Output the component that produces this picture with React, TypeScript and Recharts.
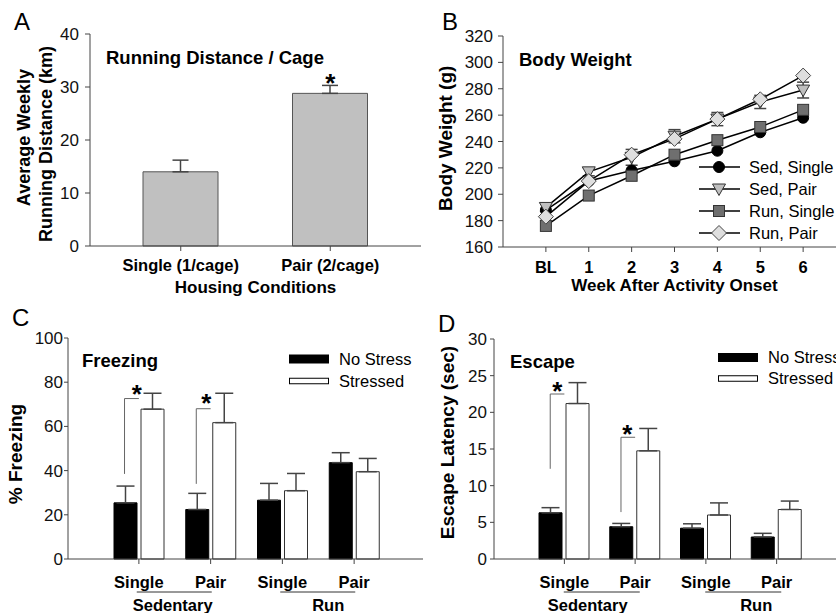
import React from "react";
import { ComposedChart, LineChart, Line, Bar, XAxis, YAxis, ErrorBar, Scatter, Legend } from "recharts";

const FONT = '"Liberation Sans", Arial, Helvetica, sans-serif';
const AXIS = "#444";

// A: running distance
const housing = ["Single (1/cage)", "Pair (2/cage)"];
const distance = [14.0, 28.8];
const distanceErr = [2.2, 1.5];
const distanceStars = [{ x: 1, y: 31.9 }];
const distanceTicks = [0, 10, 20, 30, 40];

// B: body weight
const weeks = [0, 1, 2, 3, 4, 5, 6];
const weekLabels = ["BL", "1", "2", "3", "4", "5", "6"];
const sedSingle = [188, 210, 218, 225, 233, 247, 258];
const sedPair = [190, 217, 228, 244, 257, 270, 279];
const sedPairErr = [3, 3, 6, 5, 5, 5, 6];
const runSingle = [176, 199, 214, 230, 241, 251, 264];
const runPair = [183, 210, 230, 242, 257, 272, 290];
const weightTicks = [160, 180, 200, 220, 240, 260, 280, 300, 320];

// C / D: shared categories
const housingShort = ["Single", "Pair", "Single", "Pair"];
const activityGroups = ["Sedentary", "Run"];
const groupTicks = [0.5, 2.5];

// C: freezing
const freezeNoStress = [25.4, 22.4, 26.6, 43.6];
const freezeNoStressErr = [7.6, 7.3, 7.6, 4.5];
const freezeStressed = [67.8, 61.7, 30.9, 39.5];
const freezeStressedErr = [7.2, 13.3, 7.8, 6.0];
const freezeTicks = [0, 20, 40, 60, 80, 100];
const freezeBrackets = [
  [{ x: -0.2, y: 38.5 }, { x: -0.2, y: 72.6 }, { x: 0, y: 72.6 }],
  [{ x: 0.8, y: 34 }, { x: 0.8, y: 68 }, { x: 1, y: 68 }],
];
const freezeStars = [{ x: -0.03, y: 77.4 }, { x: 0.94, y: 73.3 }];

// D: escape latency
const escNoStress = [6.3, 4.4, 4.2, 3.0];
const escNoStressErr = [0.7, 0.45, 0.6, 0.5];
const escStressed = [21.2, 14.75, 6.0, 6.75];
const escStressedErr = [2.85, 3.05, 1.65, 1.15];
const escTicks = [0, 5, 10, 15, 20, 25, 30];
const escBrackets = [
  [{ x: -0.2, y: 12.3 }, { x: -0.2, y: 22.5 }, { x: 0, y: 22.5 }],
  [{ x: 0.8, y: 6.4 }, { x: 0.8, y: 16.6 }, { x: 1, y: 16.6 }],
];
const escStars = [{ x: -0.1, y: 23.7 }, { x: 0.89, y: 17.9 }];

const weightSeries = [
  { key: "sedSingle", name: "Sed, Single", marker: "circle" },
  { key: "sedPair", name: "Sed, Pair", marker: "triangle" },
  { key: "runSingle", name: "Run, Single", marker: "square" },
  { key: "runPair", name: "Run, Pair", marker: "diamond" },
];

const stressSeries = [
  { name: "No Stress", fill: "#000", h: 8 },
  { name: "Stressed", fill: "#fff", h: 5.5 },
];

const numTick = { fontSize: 17, fill: "#111" };
const catTick = { fontSize: 16.5, fill: "#000", fontWeight: "bold" as const };

function Marker({ kind, cx, cy }: { kind: string; cx: number; cy: number }) {
  if (kind === "circle") return <circle cx={cx} cy={cy} r={5.5} fill="#000" stroke="#000" />;
  if (kind === "triangle")
    return <polygon points={`${cx - 6.5},${cy - 5} ${cx + 6.5},${cy - 5} ${cx},${cy + 6.5}`} fill="#bfbfbf" stroke="#333" />;
  if (kind === "square")
    return <rect x={cx - 5.5} y={cy - 5.5} width={11} height={11} fill="#6f6f6f" stroke="#333" />;
  return <polygon points={`${cx},${cy - 7.5} ${cx + 7.5},${cy} ${cx},${cy + 7.5} ${cx - 7.5},${cy}`} fill="#dedede" stroke="#444" />;
}

const Star = (p: any) => (
  <text x={p.cx} y={p.cy + 15} textAnchor="middle" fontSize={26} fontWeight="bold" fill="#000">
    *
  </text>
);

const NoShape = () => <g />;

function rotLabel(lines: { text: string; x: number; cy: number }[], size: number) {
  return () => (
    <g>
      {lines.map((l) => (
        <text key={l.text} x={l.x} y={l.cy} transform={`rotate(-90 ${l.x} ${l.cy})`} textAnchor="middle"
          fontSize={size} fontWeight="bold" fill="#000">
          {l.text}
        </text>
      ))}
    </g>
  );
}

function flatLabel(text: string, x: number, y: number) {
  return () => (
    <text x={x} y={y} textAnchor="middle" fontSize={17} fontWeight="bold" fill="#000">
      {text}
    </text>
  );
}

function groupTick(textDx: number[], x1: number, x2: number) {
  return (props: any) => {
    const { x, y, payload } = props;
    const i = groupTicks.indexOf(payload.value);
    return (
      <g>
        <line x1={x + x1} x2={x + x2} y1={y + 7} y2={y + 7} stroke="#333" />
        <text x={x + textDx[i]} y={y + 26} textAnchor="middle" fontSize={16.5} fontWeight="bold" fill="#000">
          {activityGroups[i]}
        </text>
      </g>
    );
  };
}

function stressLegend(rowH: number) {
  return () => (
    <div style={{ fontSize: 16.5, color: "#000", whiteSpace: "nowrap" }}>
      {stressSeries.map((s) => (
        <div key={s.name} style={{ display: "flex", alignItems: "center", height: rowH }}>
          <svg width={50} height={rowH} style={{ flexShrink: 0 }}>
            <rect x={0.5} y={(rowH - s.h) / 2} width={39} height={s.h} fill={s.fill} stroke="#000" />
          </svg>
          <span>{s.name}</span>
        </div>
      ))}
    </div>
  );
}

const weightLegend = () => (
  <div style={{ fontSize: 16.5, color: "#000", whiteSpace: "nowrap" }}>
    {weightSeries.map((s) => (
      <div key={s.key} style={{ display: "flex", alignItems: "center", height: 22 }}>
        <svg width={50} height={22} style={{ flexShrink: 0 }}>
          <line x1={0} x2={41} y1={11} y2={11} stroke="#000" strokeWidth={1.5} />
          <Marker kind={s.marker} cx={20} cy={11} />
        </svg>
        <span>{s.name}</span>
      </div>
    ))}
  </div>
);

function PanelA() {
  const rows = housing.map((name, i) => ({ name, value: distance[i], err: [0, distanceErr[i]] }));
  const pad = { left: 16, right: 16 };
  return (
    <ComposedChart width={430} height={300} data={rows} margin={{ top: 34, right: 9, left: 50, bottom: 0 }}>
      <XAxis xAxisId="cat" dataKey="name" height={54} padding={pad} interval={0} tickSize={5} tickMargin={8}
        tick={catTick} axisLine={{ stroke: AXIS }} tickLine={{ stroke: AXIS }}
        label={flatLabel("Housing Conditions", 255.5, 293)} />
      <XAxis xAxisId="num" type="number" dataKey="x" domain={[-0.5, 1.5]} allowDataOverflow hide padding={pad} />
      <XAxis xAxisId="top" orientation="top" type="number" domain={[0, 1]} height={0} tick={false} tickLine={false}
        axisLine={{ stroke: AXIS }} />
      <YAxis yAxisId="l" domain={[0, 40]} ticks={distanceTicks} width={40} tickSize={5} tickMargin={6} tick={numTick}
        axisLine={{ stroke: AXIS }} tickLine={{ stroke: AXIS }}
        label={rotLabel([
          { text: "Average Weekly", x: 30, cy: 137.6 },
          { text: "Running Distance (km)", x: 51.7, cy: 144 },
        ], 18)} />
      <YAxis yAxisId="r" orientation="right" domain={[0, 1]} width={0} tick={false} tickLine={false}
        axisLine={{ stroke: AXIS }} />
      <Bar xAxisId="cat" yAxisId="l" dataKey="value" barSize={75} fill="#c0c0c0" stroke="#555" isAnimationActive={false}>
        <ErrorBar dataKey="err" width={8} stroke="#444" direction="y" />
      </Bar>
      <Scatter xAxisId="num" yAxisId="l" data={distanceStars} dataKey="y" shape={Star} isAnimationActive={false} />
    </ComposedChart>
  );
}

function PanelB() {
  const rows = weeks.map((week, i) => ({
    week,
    sedSingle: sedSingle[i],
    sedPair: sedPair[i],
    sedPairErr: sedPairErr[i],
    runSingle: runSingle[i],
    runPair: runPair[i],
  }));
  return (
    <LineChart width={440} height={300} data={rows} margin={{ top: 36, right: 14, left: 43, bottom: 0 }}>
      <XAxis dataKey="week" type="number" domain={[-1, 7]} ticks={weeks} interval={0} height={53}
        tickFormatter={(v: number) => weekLabels[weeks.indexOf(v)]} tickSize={5} tickMargin={9} tick={catTick}
        axisLine={{ stroke: AXIS }} tickLine={{ stroke: AXIS }}
        label={flatLabel("Week After Activity Onset", 254.5, 291)} />
      <XAxis xAxisId="top" orientation="top" type="number" domain={[0, 1]} height={0} tick={false} tickLine={false}
        axisLine={{ stroke: AXIS }} />
      <YAxis domain={[160, 320]} ticks={weightTicks} width={40} tickSize={5} tickMargin={5} tick={numTick}
        axisLine={{ stroke: AXIS }} tickLine={{ stroke: AXIS }}
        label={rotLabel([{ text: "Body Weight (g)", x: 31.7, cy: 138.3 }], 19)} />
      {weightSeries.map((s) => (
        <Line key={s.key} dataKey={s.key} name={s.name} stroke="#000" strokeWidth={1.5} isAnimationActive={false}
          activeDot={false}
          dot={(p: any) => <Marker key={`${s.key}-${p.index}`} kind={s.marker} cx={p.cx} cy={p.cy} />}>
          {s.key === "sedPair" ? <ErrorBar dataKey="sedPairErr" width={6} stroke="#444" direction="y" /> : null}
        </Line>
      ))}
      <Legend layout="vertical" align="center" verticalAlign="middle" content={weightLegend}
        wrapperStyle={{ left: 279, top: 156, width: 200 }} />
    </LineChart>
  );
}

type StressProps = {
  width: number;
  margin: { top: number; right: number; left: number; bottom: number };
  pad: { left: number; right: number };
  noStress: number[];
  noStressErr: number[];
  stressed: number[];
  stressedErr: number[];
  yMax: number;
  yTicks: number[];
  yTickMargin: number;
  brackets: { x: number; y: number }[][];
  stars: { x: number; y: number }[];
  yLabel: { text: string; x: number; cy: number };
  legendPos: { left: number; top: number };
  legendRow: number;
  groupDx: number[];
  groupLine: number[];
};

function StressPanel(p: StressProps) {
  const rows = housingShort.map((name, i) => ({
    name,
    no: p.noStress[i],
    noErr: [0, p.noStressErr[i]],
    st: p.stressed[i],
    stErr: [0, p.stressedErr[i]],
  }));
  return (
    <ComposedChart width={p.width} height={313} data={rows} margin={p.margin}>
      <XAxis xAxisId="cat" dataKey="name" height={26} padding={p.pad} interval={0} tickSize={5} tickMargin={12}
        tick={catTick} axisLine={{ stroke: AXIS }} tickLine={{ stroke: AXIS }} />
      <XAxis xAxisId="grp" type="number" dataKey="x" domain={[-0.5, 3.5]} allowDataOverflow ticks={groupTicks}
        interval={0} height={28} padding={p.pad} axisLine={false} tickLine={false} tickSize={0} tickMargin={0}
        tick={groupTick(p.groupDx, p.groupLine[0], p.groupLine[1])} />
      <XAxis xAxisId="top" orientation="top" type="number" domain={[0, 1]} height={0} tick={false} tickLine={false}
        axisLine={{ stroke: AXIS }} />
      <YAxis yAxisId="l" domain={[0, p.yMax]} ticks={p.yTicks} width={40} tickSize={4} tickMargin={p.yTickMargin}
        tick={numTick} axisLine={{ stroke: AXIS }} tickLine={{ stroke: AXIS }} label={rotLabel([p.yLabel], 19)} />
      <YAxis yAxisId="r" orientation="right" domain={[0, 1]} width={0} tick={false} tickLine={false}
        axisLine={{ stroke: AXIS }} />
      <Bar xAxisId="cat" yAxisId="l" dataKey="no" name="No Stress" barSize={23} fill="#000" stroke="#000"
        isAnimationActive={false}>
        <ErrorBar dataKey="noErr" width={9} stroke="#444" direction="y" />
      </Bar>
      <Bar xAxisId="cat" yAxisId="l" dataKey="st" name="Stressed" barSize={23} fill="#fff" stroke="#333"
        isAnimationActive={false}>
        <ErrorBar dataKey="stErr" width={9} stroke="#444" direction="y" />
      </Bar>
      {p.brackets.map((b, i) => (
        <Scatter key={`br${i}`} xAxisId="grp" yAxisId="l" data={b} dataKey="y" shape={NoShape}
          line={{ stroke: "#666", strokeWidth: 1 }} lineType="joint" isAnimationActive={false} />
      ))}
      <Scatter xAxisId="grp" yAxisId="l" data={p.stars} dataKey="y" shape={Star} isAnimationActive={false} />
      <Legend layout="vertical" align="center" verticalAlign="middle" content={stressLegend(p.legendRow)}
        wrapperStyle={{ left: p.legendPos.left, top: p.legendPos.top, width: 160 }} />
    </ComposedChart>
  );
}

export default function App() {
  return (
    <div style={{ position: "absolute", left: 0, top: 0, width: 836, height: 613, overflow: "hidden",
      background: "#fff", fontFamily: FONT }}>
      <div style={{ position: "absolute", left: 0, top: 0 }}>
        <PanelA />
      </div>
      <div style={{ position: "absolute", left: 420, top: 0 }}>
        <PanelB />
      </div>
      <div style={{ position: "absolute", left: 0, top: 300 }}>
        <StressPanel width={430} margin={{ top: 38, right: 7, left: 28, bottom: 0 }} pad={{ left: 35, right: 33 }}
          noStress={freezeNoStress} noStressErr={freezeNoStressErr} stressed={freezeStressed}
          stressedErr={freezeStressedErr} yMax={100} yTicks={freezeTicks} yTickMargin={1}
          brackets={freezeBrackets} stars={freezeStars}
          yLabel={{ text: "% Freezing", x: 22, cy: 154 }} legendPos={{ left: 289, top: 48 }} legendRow={22}
          groupDx={[-2, 10]} groupLine={[-38, 37]} />
      </div>
      <div style={{ position: "absolute", left: 420, top: 300 }}>
        <StressPanel width={440} margin={{ top: 39, right: 14, left: 34, bottom: 0 }} pad={{ left: 35, right: 34 }}
          noStress={escNoStress} noStressErr={escNoStressErr} stressed={escStressed}
          stressedErr={escStressedErr} yMax={30} yTicks={escTicks} yTickMargin={3}
          brackets={escBrackets} stars={escStars}
          yLabel={{ text: "Escape Latency (sec)", x: 34.3, cy: 142.5 }} legendPos={{ left: 298, top: 46.5 }}
          legendRow={21} groupDx={[-12, 15]} groupLine={[-36, 40]} />
      </div>
      <svg width={836} height={613} style={{ position: "absolute", left: 0, top: 0, pointerEvents: "none" }}>
        <g fontSize={24} fill="#000">
          <text x={14} y={30}>A</text>
          <text x={442} y={30}>B</text>
          <text x={12} y={326}>C</text>
          <text x={438} y={332}>D</text>
        </g>
        <g fontSize={18.5} fontWeight="bold" fill="#000">
          <text x={106} y={64}>Running Distance / Cage</text>
          <text x={519} y={65.5}>Body Weight</text>
          <text x={82} y={367}>Freezing</text>
          <text x={510} y={368}>Escape</text>
        </g>
      </svg>
    </div>
  );
}
